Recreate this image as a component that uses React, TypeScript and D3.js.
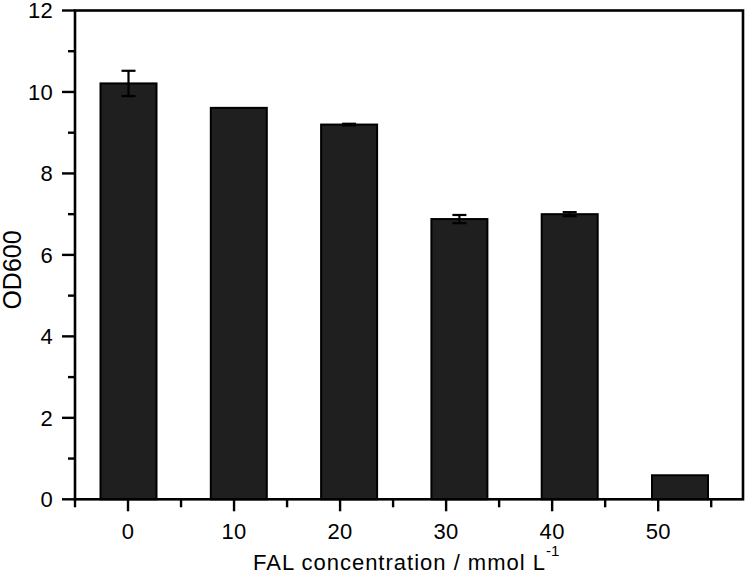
import React from "react";
import * as d3 from "d3";

const categories = [0, 10, 20, 30, 40, 50];
const values = [10.21, 9.61, 9.2, 6.88, 7.0, 0.59];
const errors = [0.31, 0.0, 0.02, 0.1, 0.05, 0.0];
const yTicks = [0, 2, 4, 6, 8, 10, 12];
const yMinorTicks = [1, 3, 5, 7, 9, 11];
const xTicks = [0, 10, 20, 30, 40, 50];
const xMinorTicks = [-5, 5, 15, 25, 35, 45, 55];

const W = 747;
const H = 575;
const left = 75;
const right = 743;
const top = 10.5;
const bottom = 499.3;
const FONT = "'Liberation Sans', Arial, sans-serif";

export default function App() {
  const x = d3.scaleLinear().domain([-5, 58]).range([left, right]);
  const xBar = d3.scaleLinear().domain([0, 50]).range([128.5, 680]);
  const y = d3.scaleLinear().domain([0, 12]).range([bottom, top]);
  const barW = 56;
  const capW = 14;

  return (
    <svg width={W} height={H} style={{ position: "absolute", left: 0, top: 0, background: "#fff" }}>
      {categories.map((c, i) => (
        <rect
          key={"b" + c}
          x={xBar(c) - barW / 2}
          y={y(values[i])}
          width={barW}
          height={bottom - y(values[i])}
          fill="#1f1f1f"
          stroke="#000"
          strokeWidth={2}
        />
      ))}
      {categories.map((c, i) =>
        errors[i] > 0 ? (
          <g key={"e" + c} stroke="#000" strokeWidth={2.2}>
            <line x1={xBar(c)} x2={xBar(c)} y1={y(values[i] + errors[i])} y2={y(values[i] - errors[i])} />
            <line x1={xBar(c) - capW / 2} x2={xBar(c) + capW / 2} y1={y(values[i] + errors[i])} y2={y(values[i] + errors[i])} />
            <line x1={xBar(c) - capW / 2} x2={xBar(c) + capW / 2} y1={y(values[i] - errors[i])} y2={y(values[i] - errors[i])} />
          </g>
        ) : null
      )}
      {/* frame */}
      <rect x={left} y={top} width={right - left} height={bottom - top} fill="none" stroke="#000" strokeWidth={2.6} />
      {/* y ticks */}
      {yTicks.map((t) => (
        <g key={"yt" + t}>
          <line x1={left - 13} x2={left} y1={y(t)} y2={y(t)} stroke="#000" strokeWidth={2.4} />
          <text x={53} y={y(t)} dy="0.36em" textAnchor="end" fontFamily={FONT} fontSize={22} letterSpacing={0.3} fill="#000">
            {t}
          </text>
        </g>
      ))}
      {yMinorTicks.map((t) => (
        <line key={"ym" + t} x1={left - 7} x2={left} y1={y(t)} y2={y(t)} stroke="#000" strokeWidth={2.4} />
      ))}
      {/* x ticks */}
      {xTicks.map((t) => (
        <g key={"xt" + t}>
          <line x1={x(t)} x2={x(t)} y1={bottom} y2={bottom + 12} stroke="#000" strokeWidth={2.4} />
          <text x={x(t)} y={bottom + 40} textAnchor="middle" fontFamily={FONT} fontSize={22} letterSpacing={0.3} fill="#000">
            {t}
          </text>
        </g>
      ))}
      {xMinorTicks.map((t) => (
        <line key={"xm" + t} x1={x(t)} x2={x(t)} y1={bottom} y2={bottom + 8} stroke="#000" strokeWidth={2.4} />
      ))}
      {/* axis titles */}
      <text x={253} y={570} textAnchor="start" fontFamily={FONT} fontSize={22} letterSpacing={1} fill="#000">
        FAL concentration / mmol L
        <tspan dy={-14} fontSize={15} letterSpacing={0}>-1</tspan>
      </text>
      <text
        transform={`translate(21, 270) rotate(-90)`}
        textAnchor="middle"
        fontFamily={FONT}
        fontSize={25}
        fill="#000"
      >
        OD600
      </text>
    </svg>
  );
}
